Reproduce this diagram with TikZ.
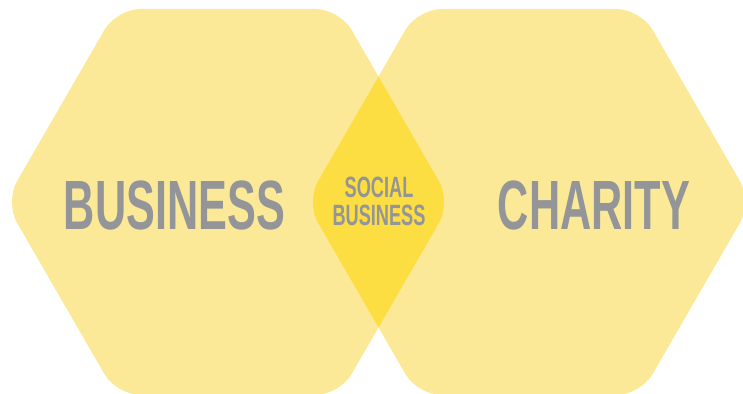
\documentclass[tikz,border=0pt]{standalone}
\usepackage{fontspec}
\usepackage{xcolor}
\newfontfamily\condfont[FakeStretch=0.62]{Liberation Sans Bold}

\definecolor{hexyellow}{RGB}{252,233,151}
\definecolor{overlapyellow}{RGB}{253,222,66}
\definecolor{labelgrey}{RGB}{147,149,152}

\tikzset{
  biglabel/.style={text=labelgrey, inner sep=0pt, anchor=base,
    font=\condfont\fontsize{39.7}{40}\selectfont},
  smalllabel/.style={text=labelgrey, inner sep=0pt, align=center,
    font=\condfont\fontsize{16.7}{15.9}\selectfont}
}

\begin{document}
\begin{tikzpicture}[x=0.02cm,y=-0.02cm]
\useasboundingbox (0,0) rectangle (743,394);

% the two hexagons
\fill [hexyellow, rounded corners=0.48cm] (5,202) -- (116.5,9) -- (339.5,9) -- (451,202) -- (339.5,395) -- (116.5,395) -- cycle;
\fill [hexyellow, rounded corners=0.48cm] (306,202) -- (417.5,9) -- (640.5,9) -- (752,202) -- (640.5,395) -- (417.5,395) -- cycle;

% overlap
\begin{scope}
\clip [rounded corners=0.48cm] (5,202) -- (116.5,9) -- (339.5,9) -- (451,202) -- (339.5,395) -- (116.5,395) -- cycle;
\fill [overlapyellow, rounded corners=0.48cm] (306,202) -- (417.5,9) -- (640.5,9) -- (752,202) -- (640.5,395) -- (417.5,395) -- cycle;
\end{scope}

\node [biglabel] (business) at (174.5,230) {BUSINESS};
\node [biglabel] (charity) at (594,230) {CHARITY};
\node [smalllabel] (social) at (379,201) {SOCIAL\\BUSINESS};
\end{tikzpicture}
\end{document}
